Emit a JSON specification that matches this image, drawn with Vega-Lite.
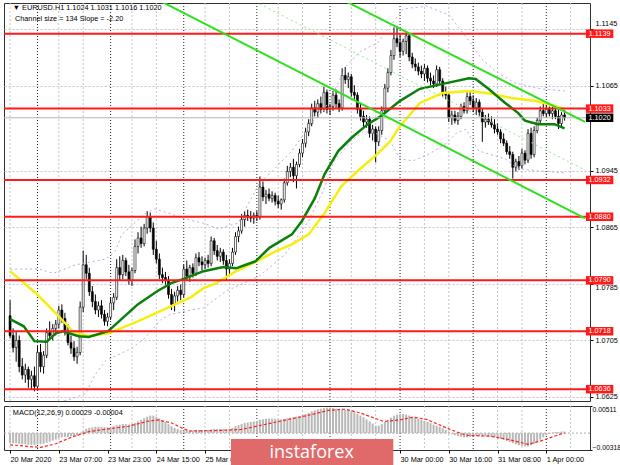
{
"$schema":"https://vega.github.io/schema/vega-lite/v6.json",
"padding":{"left":2,"top":2,"right":0,"bottom":0},
"background":"white",
"spacing":3,
"config":{"view":{"stroke":"#303030","strokeWidth":1}},
"datasets":{
"c":[
{"i":0,"o":1.0740,"h":1.0762,"l":1.0708,"c":1.0712,"m":-0.0018},
{"i":1,"o":1.0712,"h":1.0722,"l":1.0688,"c":1.0695,"m":-0.0019},
{"i":2,"o":1.0695,"h":1.0718,"l":1.0675,"c":1.0705,"m":-0.0019},
{"i":3,"o":1.0705,"h":1.0712,"l":1.0660,"c":1.0668,"m":-0.0020},
{"i":4,"o":1.0668,"h":1.0680,"l":1.0650,"c":1.0656,"m":-0.0021},
{"i":5,"o":1.0656,"h":1.0672,"l":1.0645,"c":1.0664,"m":-0.0021},
{"i":6,"o":1.0664,"h":1.0668,"l":1.0638,"c":1.0650,"m":-0.0022},
{"i":7,"o":1.0650,"h":1.0662,"l":1.0636,"c":1.0655,"m":-0.0022},
{"i":8,"o":1.0655,"h":1.0668,"l":1.0633,"c":1.0640,"m":-0.0022},
{"i":9,"o":1.0640,"h":1.0697,"l":1.0636,"c":1.0688,"m":-0.0021},
{"i":10,"o":1.0688,"h":1.0700,"l":1.0660,"c":1.0668,"m":-0.0021},
{"i":11,"o":1.0668,"h":1.0690,"l":1.0658,"c":1.0684,"m":-0.0020},
{"i":12,"o":1.0684,"h":1.0722,"l":1.0680,"c":1.0716,"m":-0.0018},
{"i":13,"o":1.0716,"h":1.0732,"l":1.0706,"c":1.0712,"m":-0.0016},
{"i":14,"o":1.0712,"h":1.0728,"l":1.0705,"c":1.0722,"m":-0.0014},
{"i":15,"o":1.0722,"h":1.0734,"l":1.0712,"c":1.0728,"m":-0.0012},
{"i":16,"o":1.0728,"h":1.0754,"l":1.0722,"c":1.0748,"m":-0.0009},
{"i":17,"o":1.0748,"h":1.0756,"l":1.0730,"c":1.0736,"m":-0.0008},
{"i":18,"o":1.0736,"h":1.0744,"l":1.0712,"c":1.0718,"m":-0.0007},
{"i":19,"o":1.0718,"h":1.0728,"l":1.0698,"c":1.0702,"m":-0.0007},
{"i":20,"o":1.0702,"h":1.0712,"l":1.0686,"c":1.0694,"m":-0.0006},
{"i":21,"o":1.0694,"h":1.0704,"l":1.0676,"c":1.0682,"m":-0.0006},
{"i":22,"o":1.0682,"h":1.0696,"l":1.0672,"c":1.0688,"m":-0.0005},
{"i":23,"o":1.0688,"h":1.0760,"l":1.0684,"c":1.0752,"m":-0.0003},
{"i":24,"o":1.0752,"h":1.0832,"l":1.0745,"c":1.0812,"m":0.0004},
{"i":25,"o":1.0812,"h":1.0826,"l":1.0792,"c":1.0800,"m":0.0008},
{"i":26,"o":1.0800,"h":1.0808,"l":1.0768,"c":1.0774,"m":0.0010},
{"i":27,"o":1.0774,"h":1.0782,"l":1.0752,"c":1.0760,"m":0.0011},
{"i":28,"o":1.0760,"h":1.0770,"l":1.0742,"c":1.0748,"m":0.0012},
{"i":29,"o":1.0748,"h":1.0760,"l":1.0738,"c":1.0754,"m":0.0012},
{"i":30,"o":1.0754,"h":1.0762,"l":1.0736,"c":1.0742,"m":0.0012},
{"i":31,"o":1.0742,"h":1.0748,"l":1.0726,"c":1.0732,"m":0.0011},
{"i":32,"o":1.0732,"h":1.0744,"l":1.0725,"c":1.0738,"m":0.0011},
{"i":33,"o":1.0738,"h":1.0766,"l":1.0734,"c":1.0758,"m":0.0012},
{"i":34,"o":1.0758,"h":1.0772,"l":1.0748,"c":1.0766,"m":0.0013},
{"i":35,"o":1.0766,"h":1.0820,"l":1.0762,"c":1.0808,"m":0.0015},
{"i":36,"o":1.0808,"h":1.0824,"l":1.0790,"c":1.0798,"m":0.0016},
{"i":37,"o":1.0798,"h":1.0826,"l":1.0792,"c":1.0818,"m":0.0017},
{"i":38,"o":1.0818,"h":1.0822,"l":1.0796,"c":1.0802,"m":0.0017},
{"i":39,"o":1.0802,"h":1.0812,"l":1.0784,"c":1.0790,"m":0.0016},
{"i":40,"o":1.0790,"h":1.0808,"l":1.0782,"c":1.0804,"m":0.0017},
{"i":41,"o":1.0804,"h":1.0848,"l":1.0800,"c":1.0838,"m":0.0019},
{"i":42,"o":1.0838,"h":1.0858,"l":1.0828,"c":1.0850,"m":0.0022},
{"i":43,"o":1.0850,"h":1.0866,"l":1.0836,"c":1.0842,"m":0.0025},
{"i":44,"o":1.0842,"h":1.0870,"l":1.0838,"c":1.0864,"m":0.0028},
{"i":45,"o":1.0864,"h":1.0888,"l":1.0856,"c":1.0880,"m":0.0031},
{"i":46,"o":1.0880,"h":1.0886,"l":1.0858,"c":1.0864,"m":0.0033},
{"i":47,"o":1.0864,"h":1.0872,"l":1.0826,"c":1.0834,"m":0.0033},
{"i":48,"o":1.0834,"h":1.0846,"l":1.0814,"c":1.0820,"m":0.0031},
{"i":49,"o":1.0820,"h":1.0828,"l":1.0792,"c":1.0798,"m":0.0028},
{"i":50,"o":1.0798,"h":1.0808,"l":1.0786,"c":1.0794,"m":0.0024},
{"i":51,"o":1.0794,"h":1.0802,"l":1.0784,"c":1.0790,"m":0.0021},
{"i":52,"o":1.0790,"h":1.0796,"l":1.0764,"c":1.0770,"m":0.0017},
{"i":53,"o":1.0770,"h":1.0778,"l":1.0748,"c":1.0756,"m":0.0013},
{"i":54,"o":1.0756,"h":1.0774,"l":1.0746,"c":1.0768,"m":0.0010},
{"i":55,"o":1.0768,"h":1.0782,"l":1.0760,"c":1.0776,"m":0.0008},
{"i":56,"o":1.0776,"h":1.0784,"l":1.0762,"c":1.0770,"m":0.0006},
{"i":57,"o":1.0770,"h":1.0812,"l":1.0766,"c":1.0806,"m":0.0005},
{"i":58,"o":1.0806,"h":1.0818,"l":1.0790,"c":1.0796,"m":0.0005},
{"i":59,"o":1.0796,"h":1.0812,"l":1.0788,"c":1.0808,"m":0.0005},
{"i":60,"o":1.0808,"h":1.0814,"l":1.0794,"c":1.0800,"m":0.0005},
{"i":61,"o":1.0800,"h":1.0828,"l":1.0796,"c":1.0822,"m":0.0006},
{"i":62,"o":1.0822,"h":1.0830,"l":1.0810,"c":1.0816,"m":0.0006},
{"i":63,"o":1.0816,"h":1.0824,"l":1.0804,"c":1.0812,"m":0.0006},
{"i":64,"o":1.0812,"h":1.0822,"l":1.0806,"c":1.0818,"m":0.0006},
{"i":65,"o":1.0818,"h":1.0826,"l":1.0808,"c":1.0814,"m":0.0006},
{"i":66,"o":1.0814,"h":1.0852,"l":1.0810,"c":1.0846,"m":0.0007},
{"i":67,"o":1.0846,"h":1.0850,"l":1.0826,"c":1.0832,"m":0.0008},
{"i":68,"o":1.0832,"h":1.0840,"l":1.0818,"c":1.0824,"m":0.0008},
{"i":69,"o":1.0824,"h":1.0836,"l":1.0816,"c":1.0830,"m":0.0008},
{"i":70,"o":1.0830,"h":1.0834,"l":1.0812,"c":1.0818,"m":0.0008},
{"i":71,"o":1.0818,"h":1.0826,"l":1.0790,"c":1.0806,"m":0.0007},
{"i":72,"o":1.0806,"h":1.0820,"l":1.0798,"c":1.0814,"m":0.0008},
{"i":73,"o":1.0814,"h":1.0836,"l":1.0810,"c":1.0830,"m":0.0010},
{"i":74,"o":1.0830,"h":1.0858,"l":1.0826,"c":1.0852,"m":0.0013},
{"i":75,"o":1.0852,"h":1.0866,"l":1.0844,"c":1.0860,"m":0.0015},
{"i":76,"o":1.0860,"h":1.0884,"l":1.0856,"c":1.0876,"m":0.0017},
{"i":77,"o":1.0876,"h":1.0888,"l":1.0866,"c":1.0882,"m":0.0019},
{"i":78,"o":1.0882,"h":1.0890,"l":1.0874,"c":1.0880,"m":0.0020},
{"i":79,"o":1.0880,"h":1.0888,"l":1.0872,"c":1.0878,"m":0.0021},
{"i":80,"o":1.0878,"h":1.0886,"l":1.0870,"c":1.0882,"m":0.0022},
{"i":81,"o":1.0882,"h":1.0888,"l":1.0874,"c":1.0880,"m":0.0023},
{"i":82,"o":1.0880,"h":1.0937,"l":1.0876,"c":1.0922,"m":0.0025},
{"i":83,"o":1.0922,"h":1.0930,"l":1.0902,"c":1.0908,"m":0.0026},
{"i":84,"o":1.0908,"h":1.0918,"l":1.0898,"c":1.0912,"m":0.0027},
{"i":85,"o":1.0912,"h":1.0920,"l":1.0902,"c":1.0906,"m":0.0027},
{"i":86,"o":1.0906,"h":1.0916,"l":1.0900,"c":1.0910,"m":0.0027},
{"i":87,"o":1.0910,"h":1.0914,"l":1.0896,"c":1.0902,"m":0.0027},
{"i":88,"o":1.0902,"h":1.0910,"l":1.0892,"c":1.0898,"m":0.0026},
{"i":89,"o":1.0898,"h":1.0906,"l":1.0890,"c":1.0904,"m":0.0026},
{"i":90,"o":1.0904,"h":1.0934,"l":1.0900,"c":1.0928,"m":0.0027},
{"i":91,"o":1.0928,"h":1.0952,"l":1.0924,"c":1.0944,"m":0.0028},
{"i":92,"o":1.0944,"h":1.0956,"l":1.0936,"c":1.0950,"m":0.0029},
{"i":93,"o":1.0950,"h":1.0962,"l":1.0929,"c":1.0938,"m":0.0030},
{"i":94,"o":1.0938,"h":1.0958,"l":1.0920,"c":1.0954,"m":0.0031},
{"i":95,"o":1.0954,"h":1.0976,"l":1.0950,"c":1.0970,"m":0.0032},
{"i":96,"o":1.0970,"h":1.0990,"l":1.0964,"c":1.0984,"m":0.0034},
{"i":97,"o":1.0984,"h":1.1006,"l":1.0978,"c":1.1000,"m":0.0036},
{"i":98,"o":1.1000,"h":1.1018,"l":1.0994,"c":1.1012,"m":0.0038},
{"i":99,"o":1.1012,"h":1.1040,"l":1.1008,"c":1.1034,"m":0.0041},
{"i":100,"o":1.1034,"h":1.1044,"l":1.1022,"c":1.1028,"m":0.0043},
{"i":101,"o":1.1028,"h":1.1046,"l":1.1020,"c":1.1040,"m":0.0045},
{"i":102,"o":1.1040,"h":1.1050,"l":1.1026,"c":1.1032,"m":0.0046},
{"i":103,"o":1.1032,"h":1.1064,"l":1.1028,"c":1.1056,"m":0.0047},
{"i":104,"o":1.1056,"h":1.1060,"l":1.1026,"c":1.1032,"m":0.0048},
{"i":105,"o":1.1032,"h":1.1040,"l":1.1024,"c":1.1036,"m":0.0048},
{"i":106,"o":1.1036,"h":1.1058,"l":1.1030,"c":1.1052,"m":0.0047},
{"i":107,"o":1.1052,"h":1.1060,"l":1.1034,"c":1.1040,"m":0.0046},
{"i":108,"o":1.1040,"h":1.1046,"l":1.1028,"c":1.1034,"m":0.0045},
{"i":109,"o":1.1034,"h":1.1090,"l":1.1030,"c":1.1080,"m":0.0045},
{"i":110,"o":1.1080,"h":1.1092,"l":1.1068,"c":1.1074,"m":0.0044},
{"i":111,"o":1.1074,"h":1.1084,"l":1.1062,"c":1.1078,"m":0.0043},
{"i":112,"o":1.1078,"h":1.1082,"l":1.1050,"c":1.1056,"m":0.0041},
{"i":113,"o":1.1056,"h":1.1066,"l":1.1046,"c":1.1052,"m":0.0039},
{"i":114,"o":1.1052,"h":1.1056,"l":1.1026,"c":1.1032,"m":0.0036},
{"i":115,"o":1.1032,"h":1.1040,"l":1.1016,"c":1.1022,"m":0.0033},
{"i":116,"o":1.1022,"h":1.1030,"l":1.1006,"c":1.1014,"m":0.0030},
{"i":117,"o":1.1014,"h":1.1024,"l":1.1006,"c":1.1018,"m":0.0026},
{"i":118,"o":1.1018,"h":1.1022,"l":1.0992,"c":1.0998,"m":0.0022},
{"i":119,"o":1.0998,"h":1.1010,"l":1.0988,"c":1.1004,"m":0.0018},
{"i":120,"o":1.1004,"h":1.1008,"l":1.0957,"c":1.0986,"m":0.0014},
{"i":121,"o":1.0986,"h":1.1008,"l":1.0980,"c":1.1002,"m":0.0014},
{"i":122,"o":1.1002,"h":1.1036,"l":1.0996,"c":1.1030,"m":0.0017},
{"i":123,"o":1.1030,"h":1.1068,"l":1.1026,"c":1.1062,"m":0.0021},
{"i":124,"o":1.1062,"h":1.1090,"l":1.1056,"c":1.1084,"m":0.0025},
{"i":125,"o":1.1084,"h":1.1116,"l":1.1080,"c":1.1108,"m":0.0029},
{"i":126,"o":1.1108,"h":1.1148,"l":1.1102,"c":1.1132,"m":0.0033},
{"i":127,"o":1.1132,"h":1.1150,"l":1.1120,"c":1.1126,"m":0.0035},
{"i":128,"o":1.1126,"h":1.1140,"l":1.1106,"c":1.1114,"m":0.0036},
{"i":129,"o":1.1114,"h":1.1132,"l":1.1108,"c":1.1128,"m":0.0036},
{"i":130,"o":1.1128,"h":1.1142,"l":1.1110,"c":1.1136,"m":0.0035},
{"i":131,"o":1.1136,"h":1.1140,"l":1.1100,"c":1.1106,"m":0.0033},
{"i":132,"o":1.1106,"h":1.1112,"l":1.1090,"c":1.1096,"m":0.0031},
{"i":133,"o":1.1096,"h":1.1104,"l":1.1086,"c":1.1092,"m":0.0029},
{"i":134,"o":1.1092,"h":1.1098,"l":1.1080,"c":1.1086,"m":0.0027},
{"i":135,"o":1.1086,"h":1.1094,"l":1.1076,"c":1.1082,"m":0.0025},
{"i":136,"o":1.1082,"h":1.1096,"l":1.1072,"c":1.1090,"m":0.0023},
{"i":137,"o":1.1090,"h":1.1094,"l":1.1070,"c":1.1076,"m":0.0021},
{"i":138,"o":1.1076,"h":1.1084,"l":1.1066,"c":1.1072,"m":0.0019},
{"i":139,"o":1.1072,"h":1.1080,"l":1.1062,"c":1.1068,"m":0.0016},
{"i":140,"o":1.1068,"h":1.1094,"l":1.1064,"c":1.1088,"m":0.0014},
{"i":141,"o":1.1088,"h":1.1092,"l":1.1068,"c":1.1072,"m":0.0012},
{"i":142,"o":1.1072,"h":1.1076,"l":1.1050,"c":1.1056,"m":0.0009},
{"i":143,"o":1.1056,"h":1.1064,"l":1.1046,"c":1.1052,"m":0.0006},
{"i":144,"o":1.1052,"h":1.1056,"l":1.1014,"c":1.1020,"m":0.0002},
{"i":145,"o":1.1020,"h":1.1030,"l":1.1010,"c":1.1024,"m":-0.0002},
{"i":146,"o":1.1024,"h":1.1030,"l":1.1012,"c":1.1016,"m":-0.0004},
{"i":147,"o":1.1016,"h":1.1028,"l":1.1010,"c":1.1022,"m":-0.0006},
{"i":148,"o":1.1022,"h":1.1040,"l":1.1018,"c":1.1036,"m":-0.0007},
{"i":149,"o":1.1036,"h":1.1042,"l":1.1026,"c":1.1030,"m":-0.0008},
{"i":150,"o":1.1030,"h":1.1056,"l":1.1026,"c":1.1050,"m":-0.0008},
{"i":151,"o":1.1050,"h":1.1058,"l":1.1038,"c":1.1044,"m":-0.0007},
{"i":152,"o":1.1044,"h":1.1052,"l":1.1028,"c":1.1034,"m":-0.0006},
{"i":153,"o":1.1034,"h":1.1048,"l":1.1024,"c":1.1042,"m":-0.0005},
{"i":154,"o":1.1042,"h":1.1046,"l":1.1022,"c":1.1028,"m":-0.0005},
{"i":155,"o":1.1028,"h":1.1034,"l":1.0986,"c":1.1014,"m":-0.0006},
{"i":156,"o":1.1014,"h":1.1024,"l":1.1006,"c":1.1018,"m":-0.0006},
{"i":157,"o":1.1018,"h":1.1026,"l":1.1010,"c":1.1014,"m":-0.0006},
{"i":158,"o":1.1014,"h":1.1022,"l":1.1006,"c":1.1010,"m":-0.0007},
{"i":159,"o":1.1010,"h":1.1018,"l":1.0998,"c":1.1004,"m":-0.0008},
{"i":160,"o":1.1004,"h":1.1012,"l":1.0996,"c":1.1000,"m":-0.0009},
{"i":161,"o":1.1000,"h":1.1004,"l":1.0984,"c":1.0990,"m":-0.0011},
{"i":162,"o":1.0990,"h":1.0998,"l":1.0980,"c":1.0984,"m":-0.0013},
{"i":163,"o":1.0984,"h":1.0988,"l":1.0968,"c":1.0972,"m":-0.0015},
{"i":164,"o":1.0972,"h":1.0980,"l":1.0962,"c":1.0968,"m":-0.0017},
{"i":165,"o":1.0968,"h":1.0972,"l":1.0934,"c":1.0950,"m":-0.0019},
{"i":166,"o":1.0950,"h":1.0962,"l":1.0944,"c":1.0958,"m":-0.0021},
{"i":167,"o":1.0958,"h":1.0966,"l":1.0946,"c":1.0952,"m":-0.0023},
{"i":168,"o":1.0952,"h":1.0976,"l":1.0948,"c":1.0970,"m":-0.0024},
{"i":169,"o":1.0970,"h":1.0974,"l":1.0954,"c":1.0960,"m":-0.0025},
{"i":170,"o":1.0960,"h":1.1004,"l":1.0956,"c":1.0998,"m":-0.0025},
{"i":171,"o":1.0998,"h":1.1006,"l":1.0962,"c":1.0968,"m":-0.0023},
{"i":172,"o":1.0968,"h":1.1008,"l":1.0964,"c":1.1002,"m":-0.0020},
{"i":173,"o":1.1002,"h":1.1020,"l":1.0998,"c":1.1016,"m":-0.0016},
{"i":174,"o":1.1016,"h":1.1036,"l":1.1012,"c":1.1030,"m":-0.0012},
{"i":175,"o":1.1030,"h":1.1040,"l":1.1022,"c":1.1026,"m":-0.0008},
{"i":176,"o":1.1026,"h":1.1038,"l":1.1020,"c":1.1032,"m":-0.0004},
{"i":177,"o":1.1032,"h":1.1036,"l":1.1022,"c":1.1026,"m":-0.0001},
{"i":178,"o":1.1026,"h":1.1036,"l":1.1018,"c":1.1030,"m":0.0001},
{"i":179,"o":1.1030,"h":1.1034,"l":1.1018,"c":1.1022,"m":0.0002},
{"i":180,"o":1.1022,"h":1.1032,"l":1.1004,"c":1.1012,"m":0.0002},
{"i":181,"o":1.1012,"h":1.1028,"l":1.1008,"c":1.1024,"m":0.0003},
{"i":182,"o":1.1024,"h":1.1031,"l":1.1016,"c":1.1020,"m":0.0003}
],
"ma":[
{"s":"slow","i":0,"p":1.0803},{"s":"slow","i":8.7,"p":1.0771},{"s":"slow","i":15.1,"p":1.0743},{"s":"slow","i":20.6,"p":1.0718},{"s":"slow","i":25.8,"p":1.0711},{"s":"slow","i":32.2,"p":1.0715},{"s":"slow","i":41.9,"p":1.0732},{"s":"slow","i":50.6,"p":1.0749},{"s":"slow","i":59.3,"p":1.0766},{"s":"slow","i":63.5,"p":1.0779},{"s":"slow","i":67.7,"p":1.0786},{"s":"slow","i":74.2,"p":1.0803},{"s":"slow","i":80.6,"p":1.0816},{"s":"slow","i":87.1,"p":1.0831},{"s":"slow","i":92.5,"p":1.0841},{"s":"slow","i":98,"p":1.0855},{"s":"slow","i":103.2,"p":1.0885},{"s":"slow","i":108.7,"p":1.0923},{"s":"slow","i":114.2,"p":1.0945},{"s":"slow","i":120.6,"p":1.0969},{"s":"slow","i":124.8,"p":1.0987},{"s":"slow","i":128,"p":1.1008},{"s":"slow","i":134.5,"p":1.1041},{"s":"slow","i":141.9,"p":1.1055},{"s":"slow","i":150.6,"p":1.1058},{"s":"slow","i":158,"p":1.1054},{"s":"slow","i":164.5,"p":1.1048},{"s":"slow","i":172.2,"p":1.1044},{"s":"slow","i":178.7,"p":1.1037},{"s":"slow","i":182,"p":1.1032},
{"s":"fast","i":0,"p":1.0735},{"s":"fast","i":4.5,"p":1.0725},{"s":"fast","i":8,"p":1.0704},{"s":"fast","i":12,"p":1.0703},{"s":"fast","i":15,"p":1.0715},{"s":"fast","i":17.4,"p":1.0718},{"s":"fast","i":22.5,"p":1.0711},{"s":"fast","i":25.8,"p":1.0710},{"s":"fast","i":32.2,"p":1.0718},{"s":"fast","i":41.9,"p":1.0756},{"s":"fast","i":48.4,"p":1.0775},{"s":"fast","i":52.9,"p":1.0786},{"s":"fast","i":57,"p":1.0792},{"s":"fast","i":63.5,"p":1.0803},{"s":"fast","i":70,"p":1.0809},{"s":"fast","i":74.2,"p":1.0807},{"s":"fast","i":77.4,"p":1.0812},{"s":"fast","i":80.6,"p":1.0817},{"s":"fast","i":85.1,"p":1.0836},{"s":"fast","i":92.5,"p":1.0855},{"s":"fast","i":95.8,"p":1.0874},{"s":"fast","i":100,"p":1.0906},{"s":"fast","i":103.2,"p":1.0940},{"s":"fast","i":107.7,"p":1.0973},{"s":"fast","i":111.9,"p":1.0991},{"s":"fast","i":117.4,"p":1.1011},{"s":"fast","i":121.6,"p":1.1022},{"s":"fast","i":128,"p":1.1044},{"s":"fast","i":134.5,"p":1.1061},{"s":"fast","i":143.2,"p":1.1069},{"s":"fast","i":150.6,"p":1.1076},{"s":"fast","i":152.8,"p":1.1075},{"s":"fast","i":157,"p":1.1061},{"s":"fast","i":162.5,"p":1.1041},{"s":"fast","i":166.7,"p":1.1027},{"s":"fast","i":169,"p":1.1016},{"s":"fast","i":173.2,"p":1.1011},{"s":"fast","i":178.7,"p":1.1011},{"s":"fast","i":182,"p":1.1005},
{"s":"up","i":0,"p":1.0806},{"s":"up","i":9.6,"p":1.0806},{"s":"up","i":14.2,"p":1.0800},{"s":"up","i":21.6,"p":1.0812},{"s":"up","i":31.3,"p":1.0820},{"s":"up","i":34.5,"p":1.0831},{"s":"up","i":36.7,"p":1.0855},{"s":"up","i":44.2,"p":1.0884},{"s":"up","i":47.4,"p":1.0891},{"s":"up","i":52.9,"p":1.0884},{"s":"up","i":57.1,"p":1.0877},{"s":"up","i":63.5,"p":1.0871},{"s":"up","i":68.4,"p":1.0863},{"s":"up","i":74.8,"p":1.0871},{"s":"up","i":81.9,"p":1.0928},{"s":"up","i":86.1,"p":1.0945},{"s":"up","i":92.5,"p":1.0973},{"s":"up","i":99,"p":1.1013},{"s":"up","i":103.2,"p":1.1032},{"s":"up","i":106.4,"p":1.1058},{"s":"up","i":110.3,"p":1.1093},{"s":"up","i":115.1,"p":1.1114},{"s":"up","i":120.6,"p":1.1126},{"s":"up","i":124.8,"p":1.1150},{"s":"up","i":129,"p":1.1174},{"s":"up","i":136.7,"p":1.1178},{"s":"up","i":144.2,"p":1.1165},{"s":"up","i":150.6,"p":1.1129},{"s":"up","i":154.8,"p":1.1103},{"s":"up","i":159.3,"p":1.1086},{"s":"up","i":165.8,"p":1.1069},{"s":"up","i":174.2,"p":1.1061},{"s":"up","i":182,"p":1.1058},
{"s":"lo","i":0,"p":1.0616},{"s":"lo","i":12,"p":1.0612},{"s":"lo","i":20.6,"p":1.0623},{"s":"lo","i":24.8,"p":1.0630},{"s":"lo","i":28,"p":1.0657},{"s":"lo","i":31.3,"p":1.0676},{"s":"lo","i":40,"p":1.0694},{"s":"lo","i":44.2,"p":1.0708},{"s":"lo","i":49.6,"p":1.0735},{"s":"lo","i":52.9,"p":1.0742},{"s":"lo","i":58,"p":1.0747},{"s":"lo","i":63.5,"p":1.0751},{"s":"lo","i":71,"p":1.0775},{"s":"lo","i":81.9,"p":1.0796},{"s":"lo","i":90.3,"p":1.0827},{"s":"lo","i":98,"p":1.0874},{"s":"lo","i":103.2,"p":1.0921},{"s":"lo","i":106.4,"p":1.0959},{"s":"lo","i":111.9,"p":1.0987},{"s":"lo","i":116.1,"p":1.1001},{"s":"lo","i":120.6,"p":1.0997},{"s":"lo","i":124.8,"p":1.0987},{"s":"lo","i":128,"p":1.0962},{"s":"lo","i":132.2,"p":1.0959},{"s":"lo","i":137.7,"p":1.0969},{"s":"lo","i":143.2,"p":1.0984},{"s":"lo","i":146.4,"p":1.0998},{"s":"lo","i":149.6,"p":1.1004},{"s":"lo","i":153.8,"p":1.0973},{"s":"lo","i":162.5,"p":1.0962},{"s":"lo","i":166.7,"p":1.0948},{"s":"lo","i":173.2,"p":1.0945},{"s":"lo","i":182,"p":1.0942}
],
"sig":[
{"i":0,"s":-0.0022},{"i":10,"s":-0.0027},{"i":15,"s":-0.0020},{"i":20.5,"s":-0.0007},{"i":26,"s":0.0003},{"i":31,"s":0.0007},{"i":39,"s":0.0013},{"i":45,"s":0.0022},{"i":48.5,"s":0.0025},{"i":53,"s":0.0019},{"i":57,"s":0.0008},{"i":59,"s":0.0004},{"i":69,"s":0.0005},{"i":76,"s":0.0007},{"i":85,"s":0.0018},{"i":99,"s":0.0035},{"i":104.5,"s":0.0043},{"i":110,"s":0.0045},{"i":115,"s":0.0038},{"i":122.6,"s":0.0022},{"i":128,"s":0.0025},{"i":132.3,"s":0.0030},{"i":136.7,"s":0.0026},{"i":144,"s":0.0008},{"i":149.6,"s":-0.0004},{"i":158,"s":-0.0006},{"i":163.5,"s":-0.0012},{"i":170,"s":-0.0021},{"i":174,"s":-0.0015},{"i":180.6,"s":-0.0002},{"i":182,"s":0.0000}
],
"lv":[{"p":1.1139,"t":"1.1139"},{"p":1.1033,"t":"1.1033"},{"p":1.0932,"t":"1.0932"},{"p":1.0880,"t":"1.0880"},{"p":1.0790,"t":"1.0790"},{"p":1.0718,"t":"1.0718"},{"p":1.0636,"t":"1.0636"}],
"cur":[{"p":1.1020,"t":"1.1020"}],
"ch":[
{"k":"A","i":48,"p":1.11881},{"k":"A","i":188.7,"p":1.08778},
{"k":"B","i":109,"p":1.11873},{"k":"B","i":188.7,"p":1.10143}
],
"chm":[{"k":"M","i":79,"p":1.11875},{"k":"M","i":188.7,"p":1.09461}],
"vg":[{"i":0},{"i":16},{"i":24},{"i":40},{"i":48},{"i":64},{"i":72},{"i":88},{"i":96},{"i":112},{"i":120},{"i":136},{"i":144},{"i":160},{"i":168},{"i":184}],
"ds":[{"i":9},{"i":33},{"i":57},{"i":81},{"i":105},{"i":128},{"i":152},{"i":176}]
},
"vconcat":[
{
"width":586,"height":398,
"layer":[
{"data":{"name":"vg"},"mark":{"type":"rule","color":"#c4c4c4","strokeDash":[2,2],"strokeWidth":1},
 "encoding":{"x":{"field":"i","type":"quantitative","scale":{"domain":[-0.35,188.7],"nice":false,"zero":false},"axis":null}}},
{"data":{"name":"ds"},"mark":{"type":"rule","color":"#222222","strokeDash":[1,2],"strokeWidth":1},
 "encoding":{"x":{"field":"i","type":"quantitative","scale":{"domain":[-0.35,188.7],"nice":false,"zero":false},"axis":null}}},
{"data":{"name":"c"},"mark":{"type":"rule","color":"#000000","strokeWidth":1},
 "encoding":{"x":{"field":"i","type":"quantitative","scale":{"domain":[-0.35,188.7],"nice":false,"zero":false},"axis":null},
  "y":{"field":"l","type":"quantitative","scale":{"domain":[1.06193,1.11824],"nice":false,"zero":false},
   "axis":{"orient":"right","values":[1.0625,1.0665,1.0705,1.0745,1.0785,1.0825,1.0865,1.0905,1.0945,1.0985,1.1065,1.1105,1.1145],"format":".4f","ticks":true,"tickSize":3,"tickColor":"#000000","grid":true,"gridColor":"#c4c4c4","gridDash":[2,2],"title":null,"domain":false,"labels":true,"labelFont":"Liberation Sans","labelFontSize":7.3,"labelColor":"#000000","labelPadding":2,"labelOverlap":false,"labelFlush":false,
    "labelOffset":{"condition":{"test":"datum.value > 1.114","value":-6},"value":0},
    "labelBaseline":{"condition":{"test":"datum.value > 1.078 && datum.value < 1.079","value":"top"},"value":"middle"},
    "zindex":0}},
  "y2":{"field":"h"}}},
{"data":{"name":"c"},"mark":{"type":"bar","width":2,"stroke":"#000000","strokeWidth":0.6},
 "encoding":{"x":{"field":"i","type":"quantitative","scale":{"domain":[-0.35,188.7],"nice":false,"zero":false},"axis":null},
  "y":{"field":"o","type":"quantitative","scale":{"domain":[1.06193,1.11824],"nice":false,"zero":false}},
  "y2":{"field":"c"},
  "fill":{"condition":{"test":"datum.c >= datum.o","value":"#ffffff"},"value":"#000000"}}},
{"data":{"name":"ma"},"transform":[{"filter":"datum.s == 'up' || datum.s == 'lo'"}],
 "mark":{"type":"line","color":"#c9a2e6","strokeDash":[2,3],"strokeWidth":1,"clip":true},
 "encoding":{"x":{"field":"i","type":"quantitative","scale":{"domain":[-0.35,188.7],"nice":false,"zero":false},"axis":null},
  "y":{"field":"p","type":"quantitative","scale":{"domain":[1.06193,1.11824],"nice":false,"zero":false}},
  "detail":{"field":"s"}}},
{"data":{"name":"ma"},"transform":[{"filter":"datum.s == 'slow'"}],
 "mark":{"type":"line","color":"#f5ee10","strokeWidth":2.5,"clip":true},
 "encoding":{"x":{"field":"i","type":"quantitative","scale":{"domain":[-0.35,188.7],"nice":false,"zero":false},"axis":null},
  "y":{"field":"p","type":"quantitative","scale":{"domain":[1.06193,1.11824],"nice":false,"zero":false}}}},
{"data":{"name":"ma"},"transform":[{"filter":"datum.s == 'fast'"}],
 "mark":{"type":"line","color":"#0a800a","strokeWidth":2.5,"clip":true},
 "encoding":{"x":{"field":"i","type":"quantitative","scale":{"domain":[-0.35,188.7],"nice":false,"zero":false},"axis":null},
  "y":{"field":"p","type":"quantitative","scale":{"domain":[1.06193,1.11824],"nice":false,"zero":false}}}},
{"data":{"name":"cur"},"mark":{"type":"rule","color":"#b4b4b4","strokeWidth":1},
 "encoding":{"y":{"field":"p","type":"quantitative","scale":{"domain":[1.06193,1.11824],"nice":false,"zero":false}}}},
{"data":{"name":"lv"},"mark":{"type":"rule","color":"#ff1a1a","strokeWidth":2},
 "encoding":{"y":{"field":"p","type":"quantitative","scale":{"domain":[1.06193,1.11824],"nice":false,"zero":false}}}},
{"data":{"name":"chm"},"mark":{"type":"line","color":"#8fe88f","strokeDash":[2,3],"strokeWidth":1,"clip":true},
 "encoding":{"x":{"field":"i","type":"quantitative","scale":{"domain":[-0.35,188.7],"nice":false,"zero":false},"axis":null},
  "y":{"field":"p","type":"quantitative","scale":{"domain":[1.06193,1.11824],"nice":false,"zero":false}}}},
{"data":{"name":"ch"},"mark":{"type":"line","color":"#30e020","strokeWidth":2,"clip":true},
 "encoding":{"x":{"field":"i","type":"quantitative","scale":{"domain":[-0.35,188.7],"nice":false,"zero":false},"axis":null},
  "y":{"field":"p","type":"quantitative","scale":{"domain":[1.06193,1.11824],"nice":false,"zero":false}},
  "detail":{"field":"k"}}},
{"data":{"name":"lv"},"mark":{"type":"point","shape":"M-1,-0.31L1,-0.31L1,0.31L-1,0.31Z","size":750,"filled":true,"opacity":1,"color":"#ff1a1a","strokeWidth":0,"clip":false},
 "encoding":{"x":{"datum":193.5,"type":"quantitative","scale":{"domain":[-0.35,188.7],"nice":false,"zero":false},"axis":null},
  "y":{"field":"p","type":"quantitative","scale":{"domain":[1.06193,1.11824],"nice":false,"zero":false}}}},
{"data":{"name":"cur"},"mark":{"type":"point","shape":"M-1,-0.31L1,-0.31L1,0.31L-1,0.31Z","size":750,"filled":true,"opacity":1,"color":"#000000","strokeWidth":0,"clip":false},
 "encoding":{"x":{"datum":193.5,"type":"quantitative","scale":{"domain":[-0.35,188.7],"nice":false,"zero":false},"axis":null},
  "y":{"field":"p","type":"quantitative","scale":{"domain":[1.06193,1.11824],"nice":false,"zero":false}}}},
{"data":{"name":"lv"},"mark":{"type":"text","color":"#ffffff","fontSize":7.3,"font":"Liberation Sans","align":"center","baseline":"middle","clip":false},
 "encoding":{"x":{"datum":193.5,"type":"quantitative","scale":{"domain":[-0.35,188.7],"nice":false,"zero":false},"axis":null},
  "y":{"field":"p","type":"quantitative","scale":{"domain":[1.06193,1.11824],"nice":false,"zero":false}},
  "text":{"field":"t"}}},
{"data":{"name":"cur"},"mark":{"type":"text","color":"#ffffff","fontSize":7.3,"font":"Liberation Sans","align":"center","baseline":"middle","clip":false},
 "encoding":{"x":{"datum":193.5,"type":"quantitative","scale":{"domain":[-0.35,188.7],"nice":false,"zero":false},"axis":null},
  "y":{"field":"p","type":"quantitative","scale":{"domain":[1.06193,1.11824],"nice":false,"zero":false}},
  "text":{"field":"t"}}},
{"data":{"values":[{"t":"▼ EURUSD.H1  1.1024 1.1031 1.1016 1.1020"}]},"mark":{"type":"text","color":"#000000","fontSize":7.3,"font":"Liberation Sans","align":"left","baseline":"middle"},
 "encoding":{"x":{"datum":0.9,"type":"quantitative","scale":{"domain":[-0.35,188.7],"nice":false,"zero":false},"axis":null},
  "y":{"datum":1.11753,"type":"quantitative","scale":{"domain":[1.06193,1.11824],"nice":false,"zero":false}},
  "text":{"field":"t"}}},
{"data":{"values":[{"t":"Channel size = 134 Slope = -2.20"}]},"mark":{"type":"text","color":"#000000","fontSize":7.3,"font":"Liberation Sans","align":"left","baseline":"middle"},
 "encoding":{"x":{"datum":1.6,"type":"quantitative","scale":{"domain":[-0.35,188.7],"nice":false,"zero":false},"axis":null},
  "y":{"datum":1.11591,"type":"quantitative","scale":{"domain":[1.06193,1.11824],"nice":false,"zero":false}},
  "text":{"field":"t"}}}
]
},
{
"width":586,"height":44,
"layer":[
{"data":{"name":"vg"},"mark":{"type":"rule","color":"#c4c4c4","strokeDash":[2,2],"strokeWidth":1},
 "encoding":{"x":{"field":"i","type":"quantitative","scale":{"domain":[-0.35,188.7],"nice":false,"zero":false}}}},
{"data":{"name":"ds"},"mark":{"type":"rule","color":"#222222","strokeDash":[1,2],"strokeWidth":1},
 "encoding":{"x":{"field":"i","type":"quantitative","scale":{"domain":[-0.35,188.7],"nice":false,"zero":false}}}},
{"data":{"values":[{"z":0}]},"mark":{"type":"rule","color":"#a8a8a8","strokeDash":[2,2],"strokeWidth":1},
 "encoding":{"y":{"field":"z","type":"quantitative","scale":{"domain":[-0.00318,0.00511],"nice":false,"zero":false}}}},
{"data":{"name":"c"},"mark":{"type":"bar","width":2,"color":"#b8b8b8"},
 "encoding":{"x":{"field":"i","type":"quantitative","scale":{"domain":[-0.35,188.7],"nice":false,"zero":false},
   "axis":{"values":[0,16,32,48,64,128,144,160,176],"labelExpr":"['20 Mar 2020','23 Mar 07:00','23 Mar 23:00','24 Mar 15:00','25 Mar 07:00','25 Mar 23:00','26 Mar 15:00','27 Mar 07:00','30 Mar 00:00','30 Mar 16:00','31 Mar 08:00','1 Apr 00:00'][round(datum.value/16)]","labels":true,"labelAlign":"left","labelBaseline":"top","labelPadding":2,"labelFont":"Liberation Sans","labelFontSize":7.3,"labelColor":"#000000","ticks":true,"tickSize":3,"tickColor":"#000000","domain":false,"grid":false,"title":null,"labelOverlap":false,"labelFlush":false,"zindex":0}},
  "y":{"field":"m","type":"quantitative","scale":{"domain":[-0.00318,0.00511],"nice":false,"zero":false},
   "axis":{"orient":"right","values":[-0.00318,0,0.00511],"labelExpr":"datum.value == 0 ? '0.00' : format(datum.value, '.5f')","labels":true,"labelFlush":true,"labelFont":"Liberation Sans","labelFontSize":6.8,"labelColor":"#000000","ticks":true,"tickSize":2,"tickColor":"#000000","grid":false,"title":null,"domain":false,"labelPadding":0,"zindex":0}},
  "y2":{"datum":0}}},
{"data":{"name":"sig"},"mark":{"type":"line","color":"#ff2020","strokeDash":[3,2],"strokeWidth":1.2},
 "encoding":{"x":{"field":"i","type":"quantitative","scale":{"domain":[-0.35,188.7],"nice":false,"zero":false}},
  "y":{"field":"s","type":"quantitative","scale":{"domain":[-0.00318,0.00511],"nice":false,"zero":false}}}},
{"data":{"values":[{"t":"MACD(12,26,9) 0.00029 -0.00004"}]},"mark":{"type":"text","color":"#000000","fontSize":7.3,"font":"Liberation Sans","align":"left","baseline":"middle"},
 "encoding":{"x":{"datum":0.9,"type":"quantitative","scale":{"domain":[-0.35,188.7],"nice":false,"zero":false}},
  "y":{"datum":0.00379,"type":"quantitative","scale":{"domain":[-0.00318,0.00511],"nice":false,"zero":false}},
  "text":{"field":"t"}}},
{"data":{"values":[{"t":"instaforex"}]},"mark":{"type":"rect","color":"#e06a6a","opacity":1,"clip":false},
 "encoding":{"x":{"datum":72.5,"type":"quantitative","scale":{"domain":[-0.35,188.7],"nice":false,"zero":false}},
  "x2":{"datum":125.8},
  "y":{"datum":-0.00111,"type":"quantitative","scale":{"domain":[-0.00318,0.00511],"nice":false,"zero":false}},
  "y2":{"datum":-0.0075}}},
{"data":{"values":[{"t":"instaforex"}]},"mark":{"type":"text","color":"#ffffff","fontSize":18,"font":"Open Sans","align":"center","baseline":"middle","clip":false},
 "encoding":{"x":{"datum":99,"type":"quantitative","scale":{"domain":[-0.35,188.7],"nice":false,"zero":false}},
  "y":{"datum":-0.00374,"type":"quantitative","scale":{"domain":[-0.00318,0.00511],"nice":false,"zero":false}},
  "text":{"field":"t"}}}
]
}
]
}
